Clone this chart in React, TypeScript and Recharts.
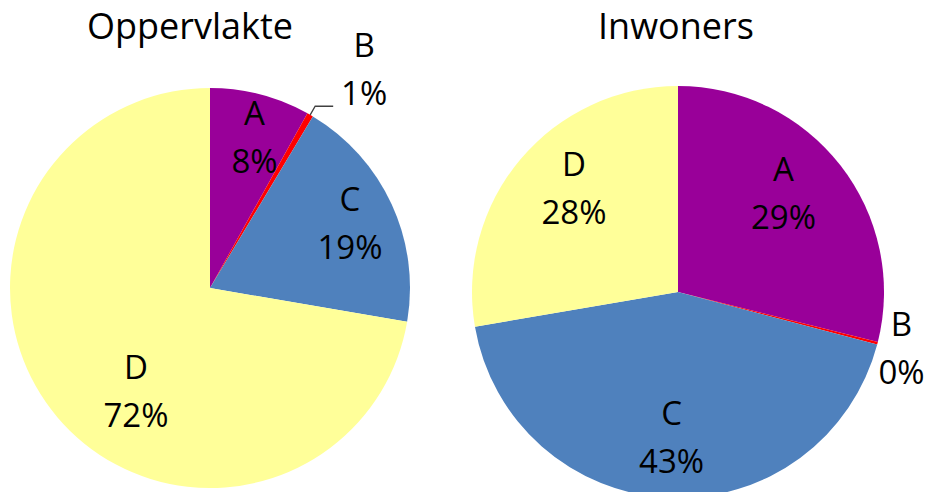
import React from 'react';
import { Cell, Pie, PieChart } from 'recharts';

const CATEGORIES = ['A', 'B', 'C', 'D'];
const AREA_SHARE = [8.1, 0.5, 19.1, 72.3];
const POPULATION_SHARE = [28.9, 0.2, 43.2, 27.7];
const TITLES = ['Oppervlakte', 'Inwoners'];

const COLORS = ['#990099', '#FF0000', '#4F81BD', '#FFFF99'];
const FONT = '"Open Sans", sans-serif';
const RAD = Math.PI / 180;

const areaData = CATEGORIES.map((name, i) => ({ name, value: AREA_SHARE[i] }));
const populationData = CATEGORIES.map((name, i) => ({ name, value: POPULATION_SHARE[i] }));

interface LabelOpts {
  inside: number;
  outside: number;
  leader: boolean;
  // per-category [radius fraction, angle offset in degrees] for Excel-like "best fit"
  nudge?: Record<string, [number, number]>;
}

function makeLabel(opts: LabelOpts) {
  return (props: any) => {
    const cx = Number(props.cx);
    const cy = Number(props.cy);
    const R = Number(props.outerRadius);
    const name: string = props.name ?? props.payload?.name;
    const value = Number(props.value);
    const pct = `${Math.round(value)}%`;
    const small = value < 1;

    let f = small ? opts.outside : opts.inside;
    let ang = Number(props.midAngle);
    const n = opts.nudge?.[name];
    if (n) {
      f = n[0];
      ang += n[1];
    }
    const at = (r: number, a: number) => ({
      x: cx + r * Math.cos(-a * RAD),
      y: cy + r * Math.sin(-a * RAD),
    });

    if (small && opts.leader) {
      const p0 = at(R, ang);
      const p1 = at(R + 10, ang);
      const p2 = { x: p1.x + 18, y: p1.y };
      const tx = p2.x + 31;
      const ty = p1.y - 36;
      return (
        <g key={`lbl-${name}`}>
          <polyline
            points={`${p0.x},${p0.y} ${p1.x},${p1.y} ${p2.x},${p2.y}`}
            fill="none"
            stroke="#404040"
            strokeWidth={1.3}
          />
          <text textAnchor="middle" fontFamily={FONT} fontSize={33} fill="#000">
            <tspan x={tx} y={ty - 13}>{name}</tspan>
            <tspan x={tx} y={ty + 35}>{pct}</tspan>
          </text>
        </g>
      );
    }

    const c = at(R * f, ang);
    return (
      <text key={`lbl-${name}`} textAnchor="middle" fontFamily={FONT} fontSize={33} fill="#000">
        <tspan x={c.x} y={c.y - 13}>{name}</tspan>
        <tspan x={c.x} y={c.y + 35}>{pct}</tspan>
      </text>
    );
  };
}

const leftLabel = makeLabel({
  inside: 0.77,
  outside: 1.3,
  leader: true,
  nudge: { A: [0.78, -2], D: [0.64, 14.5] },
});
const rightLabel = makeLabel({
  inside: 0.71,
  outside: 1.12,
  leader: false,
  nudge: { A: [0.7, 5], D: [0.71, -4.5] },
});

export default function App() {
  return (
    <div style={{ position: 'absolute', left: 0, top: 0, width: 932, height: 492, background: '#fff' }}>
      <PieChart width={932} height={492} margin={{ top: 0, right: 0, bottom: 0, left: 0 }}>
        <Pie
          data={areaData}
          dataKey="value"
          nameKey="name"
          cx={210}
          cy={288}
          outerRadius={200}
          startAngle={90}
          endAngle={-270}
          stroke="none"
          label={leftLabel}
          labelLine={false}
          isAnimationActive={false}
        >
          {areaData.map((d, i) => (
            <Cell key={d.name} fill={COLORS[i]} />
          ))}
        </Pie>
        <Pie
          data={populationData}
          dataKey="value"
          nameKey="name"
          cx={678}
          cy={292}
          outerRadius={206}
          startAngle={90}
          endAngle={-270}
          stroke="none"
          label={rightLabel}
          labelLine={false}
          isAnimationActive={false}
        >
          {populationData.map((d, i) => (
            <Cell key={d.name} fill={COLORS[i]} />
          ))}
        </Pie>
      </PieChart>
      <svg
        width={932}
        height={492}
        style={{ position: 'absolute', left: 0, top: 0, pointerEvents: 'none' }}
      >
        <text x={190} y={39} textAnchor="middle" fontFamily={FONT} fontSize={36} fill="#000">
          {TITLES[0]}
        </text>
        <text x={676} y={39} textAnchor="middle" fontFamily={FONT} fontSize={36} fill="#000">
          {TITLES[1]}
        </text>
      </svg>
    </div>
  );
}
